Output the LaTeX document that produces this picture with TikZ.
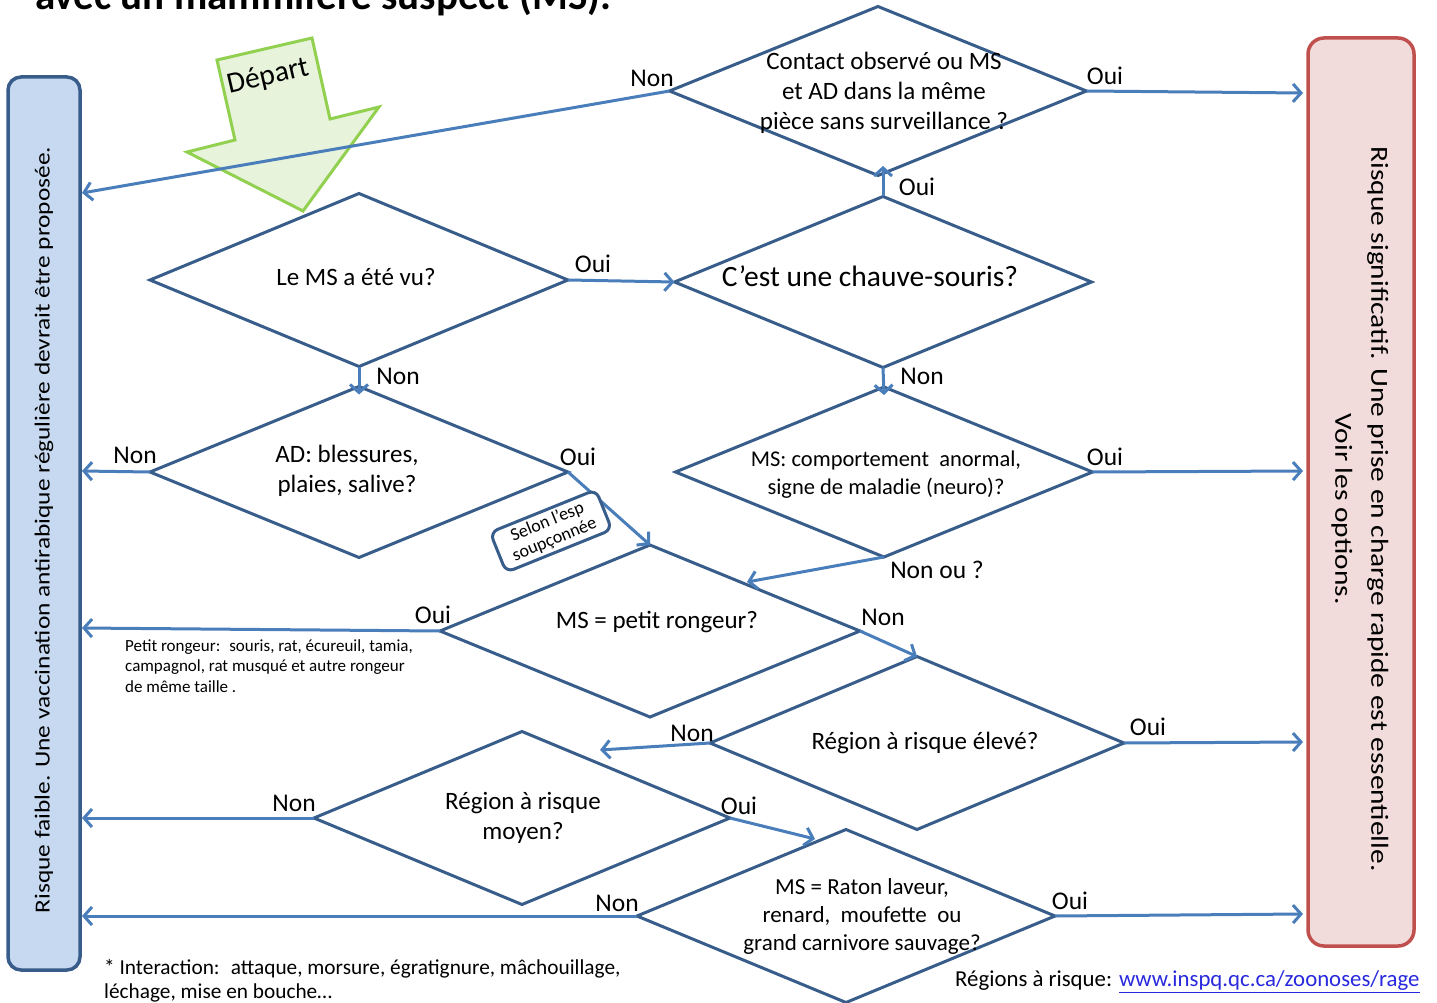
\documentclass[tikz,border=0pt]{standalone}
\usepackage{fontspec}
\setmainfont{Carlito}
\usetikzlibrary{arrows.meta,calc,shapes.geometric}
\definecolor{dblue}{RGB}{56,93,138}
\definecolor{ablue}{RGB}{74,126,187}
\definecolor{lbfill}{RGB}{198,217,241}
\definecolor{rbfill}{RGB}{242,220,219}
\definecolor{rbdraw}{RGB}{192,80,77}
\definecolor{gfill}{RGB}{232,243,220}
\definecolor{gdraw}{RGB}{146,208,80}
\definecolor{linkc}{RGB}{40,40,220}
\newcommand\fs[2]{\fontsize{#1}{#2}\selectfont}
\begin{document}
\begin{tikzpicture}[x=1pt,y=-1pt,
  dmd/.style n args={2}{diamond, draw=dblue, line width=3pt, inner sep=0pt, outer sep=0pt, minimum width=#1, minimum height=#2},
  dtext/.style={align=center, font=\fs{25}{30}, inner sep=0pt},
  lbl/.style={font=\fs{25.5}{28}, inner sep=0pt},
  arr/.style={draw=ablue, line width=3pt, -{Straight Barb[length=8pt,width=18pt]}},
]
\useasboundingbox (0,0) rectangle (1437,1003);
% title (cut off)
\begin{scope}
\clip (0,0) rectangle (1437,1003);
\node[anchor=base west, font=\bfseries\fs{41}{41}, inner sep=0pt] (title) at (35,10) {avec un mammifère suspect (MS).};
\end{scope}
% side boxes
\node[draw=dblue, fill=lbfill, line width=3.5pt, rounded corners=13pt, minimum width=72pt, minimum height=893pt, inner sep=0pt] (lb) at (44,523.5) {};
\node[rotate=90, font=\fs{21.5}{24}, inner sep=0pt] (lbt) at (44,530) {\scalebox{1.18}[1]{Risque faible.  Une vaccination antirabique régulière devrait être proposée.}};
\node[draw=rbdraw, fill=rbfill, line width=3.5pt, rounded corners=16pt, minimum width=106pt, minimum height=908pt, inner sep=0pt] (rb) at (1361,492) {};
\node[rotate=-90, font=\fs{24.5}{36}, align=center, inner sep=0pt] (rbt) at (1360,509) {\scalebox{1.2}[1]{Risque significatif. Une prise en charge rapide est essentielle.}\\\scalebox{1.2}[1]{Voir les options.}};
% Depart arrow
\draw[draw=gdraw, fill=gfill, line width=3pt] (217,60) -- (312,38) -- (330,119) -- (379,107) -- (303,211) -- (187,152) -- (235,140) -- cycle;
\node[rotate=13, font=\fs{29.5}{30}, inner sep=0pt] (dep) at (268,77) {Départ};
% diamonds
\node[dmd={417pt}{169pt}] (d1) at (878,91) {};
\node[dtext] at (884,93) {Contact observé ou MS\\et AD dans la même\\pièce sans surveillance ?};
\node[dmd={418pt}{173pt}] (d2) at (359,280) {};
\node[dtext] at (356,277) {Le MS a été vu?};
\node[dmd={417pt}{171pt}] (d3) at (883,282) {};
\node[dtext, font=\fs{29.5}{30}] at (870,276) {C’est une chauve-souris?};
\node[dmd={418pt}{171pt}] (d4) at (359,472) {};
\node[dtext] at (347,471) {AD: blessures,\\plaies, salive?};
\node[dmd={417pt}{170pt}] (d5) at (884,472) {};
\node[dtext, font=\fs{22.5}{28}] at (886,475) {MS: comportement ~anormal,\\signe de maladie (neuro)?};
\node[dmd={420pt}{172pt}] (d6) at (650,631) {};
\node[dtext] at (657,622) {MS = petit rongeur?};
\node[dmd={414pt}{173pt}] (d7) at (917,743) {};
\node[dtext] at (925,743) {Région à risque élevé?};
\node[dmd={416pt}{173pt}] (d8) at (522,818) {};
\node[dtext] at (523,818) {Région à risque\\moyen?};
\node[dmd={418pt}{173pt}] (d9) at (846,916) {};
\node[dtext, font=\fs{23}{28}] at (862,916) {MS = Raton laveur,\\renard, ~moufette ~ou\\grand carnivore sauvage?};
% free ends
\coordinate (L1) at (82,193);
\coordinate (L2) at (82,471);
\coordinate (L3) at (82,628);
\coordinate (L4) at (82,818);
\coordinate (L5) at (82,916);
\coordinate (R1) at (1303,93);
\coordinate (R2) at (1303,471);
\coordinate (R3) at (1303,742);
\coordinate (R4) at (1303,914);
\coordinate (up1) at (883,166);
\coordinate (t6) at (747,582);
\coordinate (t8) at (600,750);
\coordinate (t9) at (815,839);
% connectors
\draw[arr] (d1.west) -- (L1);
\draw[arr] (d1.east) -- (R1);
\draw[arr] (d3.north) -- (up1);
\draw[arr] (d2.east) -- (d3.west);
\draw[arr] (d2.south) -- ($(d4.north)+(0,8)$);
\draw[arr] (d3.south) -- ($(d5.north)+(0,8)$);
\draw[arr] (d4.west) -- (L2);
\draw[arr] (d4.east) -- (d6.north);
\draw[arr] (d5.east) -- (R2);
\draw[arr] (d5.south) -- (t6);
\draw[arr] (d6.west) -- (L3);
\draw[arr] (d6.east) -- (d7.north);
\draw[arr] (d7.east) -- (R3);
\draw[arr] (d7.west) -- (t8);
\draw[arr] (d8.west) -- (L4);
\draw[arr] (d8.east) -- (t9);
\draw[arr] (d9.west) -- (L5);
\draw[arr] (d9.east) -- (R4);
% selon box
\node[draw=dblue, fill=white, line width=3pt, rounded corners=8pt, rotate=22, align=center, font=\fs{18}{19}, inner sep=0pt, minimum width=114pt, minimum height=43pt] (sel) at (551,531) {Selon l’esp\\soupçonnée};
% labels
\node[lbl] at (652,78) {Non};
\node[lbl] at (1105,76) {Oui};
\node[lbl] at (917,187) {Oui};
\node[lbl] at (593,264) {Oui};
\node[lbl] at (398,376) {Non};
\node[lbl] at (922,376) {Non};
\node[lbl] at (135,455) {Non};
\node[lbl] at (578,457) {Oui};
\node[lbl] at (1105,457) {Oui};
\node[lbl] at (937,570) {Non ou ?};
\node[lbl] at (433,615) {Oui};
\node[lbl] at (883,617) {Non};
\node[lbl] at (1148,727) {Oui};
\node[lbl] at (692,733) {Non};
\node[lbl] at (294,803) {Non};
\node[lbl] at (739,806) {Oui};
\node[lbl] at (617,903) {Non};
\node[lbl] at (1070,901) {Oui};
% notes
\node[anchor=west, font=\fs{17}{18}, inner sep=0pt] (pr1) at (125,647) {Petit rongeur: ~souris, rat, écureuil, tamia,};
\node[anchor=west, font=\fs{17}{18}, inner sep=0pt] (pr2) at (125,667) {campagnol, rat musqué et autre rongeur};
\node[anchor=west, font=\fs{17}{18}, inner sep=0pt] (pr3) at (125,687) {de même taille .};
\node[anchor=west, font=\fs{21.3}{24}, inner sep=0pt] (fn1) at (104,969) {* Interaction: ~attaque, morsure, égratignure, mâchouillage,};
\node[anchor=west, font=\fs{21.3}{24}, inner sep=0pt] (fn2) at (104,993) {léchage, mise en bouche…};
\node[anchor=west, font=\fs{22.8}{24}, inner sep=0pt] (reg) at (955,982) {Régions à risque: \textcolor{linkc}{\underline{www.inspq.qc.ca/zoonoses/rage}}};
\end{tikzpicture}
\end{document}
